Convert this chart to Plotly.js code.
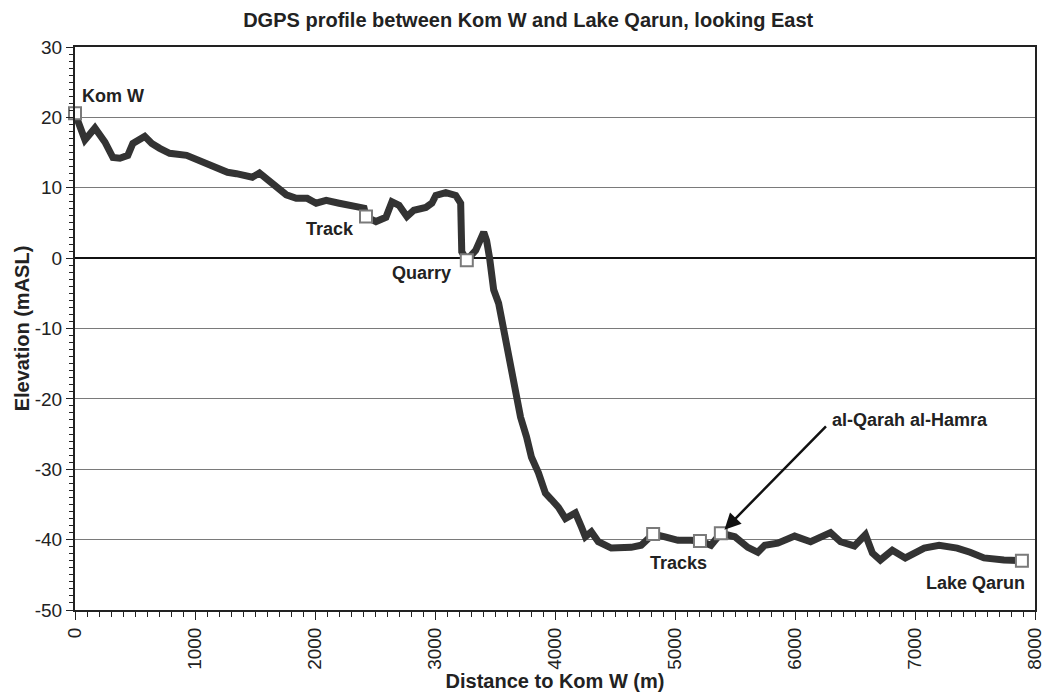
<!DOCTYPE html>
<html>
<head>
<meta charset="utf-8">
<script src="https://cdn.plot.ly/plotly-3.0.1.min.js"></script>
<style>html,body{margin:0;padding:0;background:#fff;}#chart{width:1046px;height:694px;}</style>
</head>
<body>
<div id="chart"></div>
<script>
// Profile: distance to Kom W (m) and elevation (mASL)
const distance = [0, 83, 166, 249, 316, 374, 440, 482, 581, 640, 706, 789, 930, 1063, 1179, 1271, 1345, 1478, 1537, 1645, 1761, 1844, 1935, 2010, 2093, 2201, 2309, 2409, 2425, 2508, 2591, 2641, 2700, 2766, 2824, 2924, 2974, 3007, 3090, 3173, 3214, 3218, 3223, 3265, 3339, 3406, 3430, 3455, 3489, 3530, 3572, 3630, 3671, 3713, 3763, 3804, 3862, 3920, 3970, 4028, 4087, 4170, 4220, 4253, 4303, 4361, 4469, 4635, 4718, 4818, 4917, 5025, 5133, 5208, 5300, 5382, 5499, 5607, 5690, 5748, 5856, 5997, 6130, 6296, 6379, 6495, 6587, 6645, 6711, 6811, 6919, 7077, 7201, 7351, 7459, 7575, 7741, 7891];
const elevation = [20.6, 16.8, 18.5, 16.5, 14.3, 14.2, 14.6, 16.3, 17.3, 16.3, 15.6, 14.9, 14.6, 13.6, 12.9, 12.2, 12.0, 11.5, 12.1, 10.6, 9.0, 8.5, 8.5, 7.8, 8.2, 7.8, 7.5, 7.1, 5.9, 5.2, 5.8, 8.0, 7.5, 5.9, 6.8, 7.2, 7.8, 8.9, 9.3, 8.9, 7.8, 4.0, 0.9, -0.3, 1.1, 3.7, 2.5, 0.0, -4.5, -6.4, -10.2, -14.5, -18.3, -22.6, -25.4, -28.3, -30.5, -33.4, -34.3, -35.4, -37.0, -36.2, -38.2, -39.6, -38.9, -40.3, -41.2, -41.1, -40.8, -39.2, -39.6, -40.1, -40.1, -40.2, -40.8, -39.1, -39.6, -41.1, -41.8, -40.8, -40.5, -39.5, -40.3, -39.0, -40.3, -40.9, -39.3, -41.9, -42.9, -41.5, -42.6, -41.2, -40.8, -41.2, -41.8, -42.6, -42.9, -43.0];

// Labelled points
const siteDistance = [0, 2425, 3265, 4818, 5208, 5382, 7891];
const siteElevation = [20.6, 5.9, -0.3, -39.2, -40.2, -39.1, -43.0];

const labelText = ['Kom W', 'Track', 'Quarry', 'Tracks', 'Lake Qarun', 'al-Qarah al-Hamra'];
const labelX = [316, 2126, 2890, 5033, 7500, 6960];
const labelY = [23.0, 4.1, -2.1, -43.3, -46.2, -23.0];

const xTicks = [0, 1000, 2000, 3000, 4000, 5000, 6000, 7000, 8000];
const yTicks = [-50, -40, -30, -20, -10, 0, 10, 20, 30];

const FONT = '"Liberation Sans", Arial, Helvetica, sans-serif';

const traces = [
  {
    x: distance, y: elevation, type: 'scatter', mode: 'lines',
    line: {color: '#333333', width: 7},
    hoverinfo: 'x+y', showlegend: false
  },
  {
    x: siteDistance, y: siteElevation, type: 'scatter', mode: 'markers',
    marker: {symbol: 'square', size: 12, color: '#ffffff', line: {color: '#7a7a7a', width: 2}},
    cliponaxis: false, showlegend: false
  }
];

const annotations = labelText.map((t, i) => ({
  x: labelX[i], y: labelY[i], xref: 'x', yref: 'y', text: '<b>' + t + '</b>',
  showarrow: false, font: {family: FONT, size: 18, color: '#222'}
}));
annotations.push({
  x: siteDistance[5] + 30, y: siteElevation[5] + 0.5, xref: 'x', yref: 'y',
  ax: 103, ay: -105, text: '', showarrow: true,
  arrowhead: 2, arrowsize: 1.3, arrowwidth: 2.5, arrowcolor: '#111'
});

const layout = {
  width: 1046, height: 694,
  margin: {l: 75, r: 11, t: 47, b: 84},
  paper_bgcolor: '#fff', plot_bgcolor: '#fff',
  font: {family: FONT, color: '#222'},
  title: {
    text: '<b>DGPS profile between Kom W and Lake Qarun, looking East</b>',
    x: 0.505, xref: 'container', xanchor: 'center',
    y: 0.971, yref: 'container', yanchor: 'middle',
    font: {family: FONT, size: 20, color: '#222'}
  },
  xaxis: {
    range: [0, 8000], tickvals: xTicks, ticktext: xTicks.map(String),
    tickangle: -90, tickfont: {family: FONT, size: 19, color: '#222'},
    ticklabeloverflow: 'allow',
    ticks: 'outside', ticklen: 8, tickwidth: 1, tickcolor: '#222',
    minor: {dtick: 100, ticks: 'outside', ticklen: 5, tickcolor: '#222', showgrid: false},
    showgrid: false, zeroline: false,
    showline: true, linecolor: '#222', linewidth: 2, mirror: true,
    title: {text: '<b>Distance to Kom W (m)</b>', font: {family: FONT, size: 20, color: '#222'}, standoff: 4}
  },
  yaxis: {
    range: [-50, 30], tickvals: yTicks, ticktext: yTicks.map(String),
    tickfont: {family: FONT, size: 19, color: '#222'},
    ticklabeloverflow: 'allow',
    ticks: 'outside', ticklen: 7, tickwidth: 1, tickcolor: '#222',
    minor: {dtick: 1, ticks: 'outside', ticklen: 4, tickcolor: '#222', showgrid: false},
    showgrid: true, gridcolor: '#7a7a7a', gridwidth: 1,
    zeroline: true, zerolinecolor: '#111', zerolinewidth: 2.5,
    showline: true, linecolor: '#222', linewidth: 2, mirror: true,
    title: {text: '<b>Elevation (mASL)</b>', font: {family: FONT, size: 20, color: '#222'}, standoff: 0}
  },
  annotations: annotations,
  showlegend: false
};

Plotly.newPlot('chart', traces, layout, {displayModeBar: false, staticPlot: true});
</script>
</body>
</html>
